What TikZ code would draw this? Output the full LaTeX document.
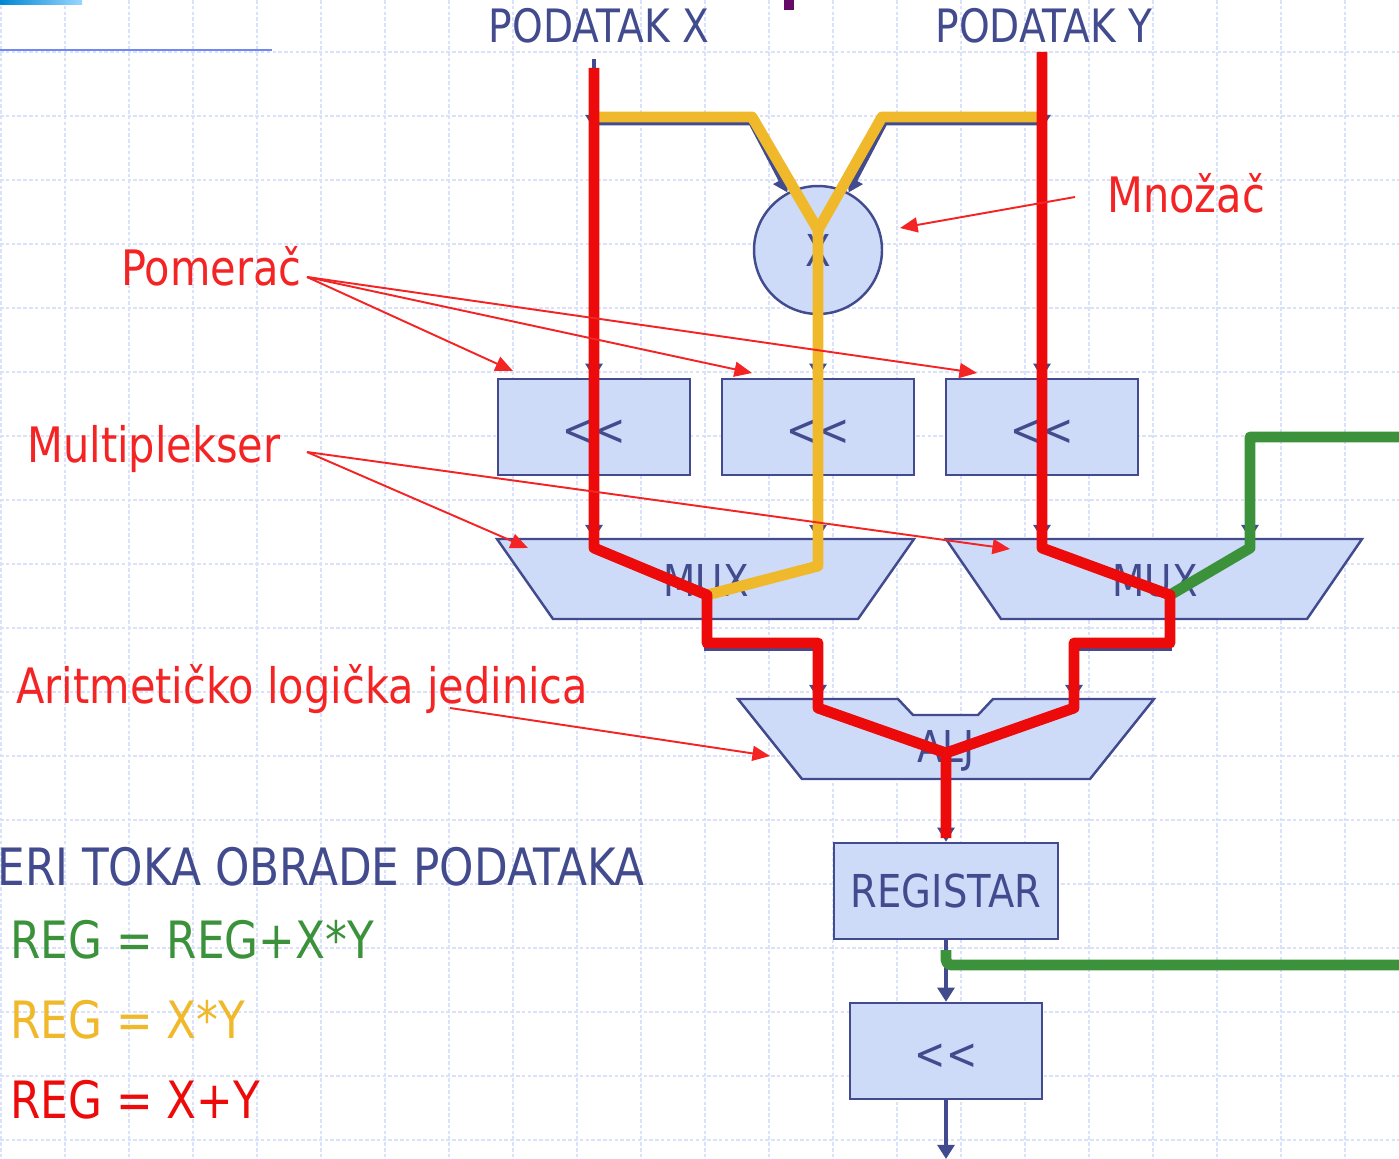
\documentclass[tikz,border=0pt]{standalone}
\usepackage{fontspec}
\setmainfont{DejaVu Sans}[FakeStretch=0.85]
\usetikzlibrary{arrows.meta}

\definecolor{ink}{HTML}{414B8D}
\definecolor{blockfill}{HTML}{CDDBF9}
\definecolor{gridblue}{HTML}{D9E2FA}
\definecolor{xyred}{HTML}{EC0A0A}
\definecolor{mulyellow}{HTML}{F0B82B}
\definecolor{accgreen}{HTML}{3B923B}
\definecolor{notered}{HTML}{F42424}
\definecolor{rulerblue}{HTML}{6F88F2}
\definecolor{markpurple}{HTML}{660A6A}

% two shift signs, kept apart so the font does not join them
\newcommand{\shl}{\raisebox{-3.4pt}[\height][\depth]{<\kern0pt<}}

\begin{document}
\begin{tikzpicture}%
	[x=0.02cm, y=-0.02cm,
	gridline/.style={color=gridblue, line width=1.2pt, dash pattern=on 2pt off 1.3pt},
	block/.style={draw=ink, fill=blockfill, line width=1.4pt},
	shifter/.style={block, text=ink, inner sep=0pt, minimum width=3.84cm, minimum height=1.92cm, font=\fontsize{25}{30}\selectfont},
	wire/.style={color=ink, line width=2.8pt, -{Triangle[width=9.5pt,length=8pt]}},
	flow/.style={line width=6.2pt, line join=round},
	note/.style={color=notered, line width=1.1pt, -{Triangle[width=8.5pt,length=10pt]}},
	unitname/.style={color=ink, inner sep=0pt, anchor=base, font=\fontsize{25}{30}\selectfont},
	inname/.style={unitname, font=\fontsize{26.2}{31}\selectfont},
	tag/.style={color=notered, inner sep=0pt, anchor=base west, font=\fontsize{27.8}{33}\selectfont},
	formula/.style={inner sep=0pt, anchor=base west, font=\fontsize{29.3}{35}\selectfont}]
%
\useasboundingbox (0,0) rectangle (1399,1159);
%
%% Background grid
%%
\foreach \gx in {0,...,21}
	\draw[gridline] (1+64*\gx,0) -- (1+64*\gx,1159);
\foreach \gy in {0,...,17}
	\draw[gridline] (0,52+64*\gy) -- (1399,52+64*\gy);
%
%% Slide decoration
%%
\shade[left color=black!25!cyan!70!blue, right color=cyan!60!blue!40] (0,0) rectangle (82,5);
\draw[rulerblue, line width=1.3pt] (0,50) -- (272,50);
\fill[markpurple] (784,0) rectangle (794,10);
%
%% Coordinates of the wire ends
%%
\coordinate (inX) at (594,59);
\coordinate (inY) at (1042,59);
\coordinate (splitX) at (594,129);
\coordinate (splitY) at (1042,129);
\coordinate (teeX) at (594,123);
\coordinate (teeY) at (1042,123);
\coordinate (bendX) at (751,123);
\coordinate (bendY) at (885,123);
\coordinate (muxAin1) at (594,539);
\coordinate (muxAin2) at (818,539);
\coordinate (muxBin1) at (1042,539);
\coordinate (muxBin2) at (1250,539);
\coordinate (muxAout) at (706,619);
\coordinate (muxBout) at (1170,619);
\coordinate (fbIn) at (1399,437);
\coordinate (fbTurn) at (1250,437);
\coordinate (aluIn1) at (818,699);
\coordinate (aluIn2) at (1074,699);
\coordinate (aluOut) at (946,779);
\coordinate (outD) at (946,1159);
%%
%%
%% Drawing the units
%%
\node[inname] (podX) at (599,43) {PODATAK X};
\node[inname] (podY) at (1044,43) {PODATAK Y};
\node[block, circle, minimum size=2.56cm, inner sep=0pt, text=ink, font=\fontsize{25}{30}\selectfont] (mul) at (818,250) {X};
\node[shifter] (shA) at (594,427) {\shl};
\node[shifter] (shB) at (818,427) {\shl};
\node[shifter] (shC) at (1042,427) {\shl};
\draw[block] (497,539) -- (914,539) -- (858,619) -- (553,619) -- cycle;
\draw[block] (946,539) -- (1362,539) -- (1307,619) -- (1001,619) -- cycle;
\draw[block] (738,699) -- (898,699) -- (913,715) -- (978,715) -- (993,699) -- (1154,699) -- (1090,779) -- (802,779) -- cycle;
\node[unitname] (muxA) at (706,596) {MUX};
\node[unitname] (muxB) at (1155,596) {MUX};
\node[unitname] (alu) at (946,762) {ALJ};
\node[shifter, minimum width=4.48cm, font=\fontsize{25.8}{31}\selectfont] (reg) at (946,891) {REGISTAR};
\node[shifter] (shD) at (946,1051) {\shl};
%%
%%
%% Drawing the wires
%%
\draw[wire] (inX) -- (splitX);
\draw[wire] (inY) -- (splitY);
\draw[wire] (splitX) -- (shA.north);
\draw[wire] (splitY) -- (shC.north);
\draw[wire] (teeX) -- (bendX) -- (mul.118);
\draw[wire] (teeY) -- (bendY) -- (mul.62);
\draw[wire] (mul.south) -- (shB.north);
\draw[wire] (shA.south) -- (muxAin1);
\draw[wire] (shB.south) -- (muxAin2);
\draw[wire] (shC.south) -- (muxBin1);
\draw[wire] (fbIn) -- (fbTurn) -- (muxBin2);
\draw[wire] (muxAout) -- ++(0,30) -| (aluIn1);
\draw[wire] (muxBout) -- ++(0,30) -| (aluIn2);
\draw[wire] (aluOut) -- (reg.north);
\draw[wire] (reg.south) -- (shD.north);
\draw[wire] (shD.south) -- (outD);
%%
%%
%% Drawing the data paths
%%
\draw[flow, mulyellow] (594,117) -- (752,117) -- (818,230) -- (818,566) -- (707,595);
\draw[flow, mulyellow] (1042,117) -- (882,117) -- (818,230);
\draw[flow, accgreen] (1399,437) -- (1250,437) -- (1250,548) -- (1170,595);
\draw[flow, accgreen, rounded corners=3pt] (946,950) -- (946,965) -- (1399,965);
\draw[flow, xyred] (594,68) -- (594,548) -- (707,595) -- (707,643) -- (818,643) -- (818,708) -- (946,753) -- (946,838);
\draw[flow, xyred] (1042,52) -- (1042,548) -- (1170,595) -- (1170,643) -- (1074,643) -- (1074,708) -- (946,753);
%%
%%
%% Drawing the notes
%%
\node[tag] (mnozac) at (1107,212) {Množač};
\node[tag] (pomerac) at (121,285) {Pomerač};
\node[tag] (mux) at (27,462) {Multiplekser};
\node[tag] (aljname) at (16,703) {Aritmetičko logička jedinica};
\coordinate (mnozacTail) at (1075,197);
\coordinate (pomTail) at (307,277);
\coordinate (muxTail) at (307,452);
\coordinate (aljTail) at (450,708);
\coordinate (mulTip) at (900,228);
\coordinate (shATip) at (513,371);
\coordinate (shBTip) at (752,373);
\coordinate (shCTip) at (977,373);
\coordinate (muxATip) at (528,548);
\coordinate (muxBTip) at (1010,549);
\coordinate (aluTip) at (770,756);
\draw[note] (mnozacTail) -- (mulTip);
\foreach \tip in {shATip,shBTip,shCTip}
	\draw[note] (pomTail) -- (\tip);
\foreach \tip in {muxATip,muxBTip}
	\draw[note] (muxTail) -- (\tip);
\draw[note] (aljTail) -- (aluTip);
%%
%%
%% Drawing the legend
%%
\node[formula, color=ink] (title) at (-3,885) {ERI TOKA OBRADE PODATAKA};
\node[formula, color=accgreen] (accLine) at (10,958) {REG = REG+X*Y};
\node[formula, color=mulyellow] (mulLine) at (10,1038) {REG = X*Y};
\node[formula, color=xyred] (sumLine) at (10,1118) {REG = X+Y};
%%
\end{tikzpicture}
\end{document}
